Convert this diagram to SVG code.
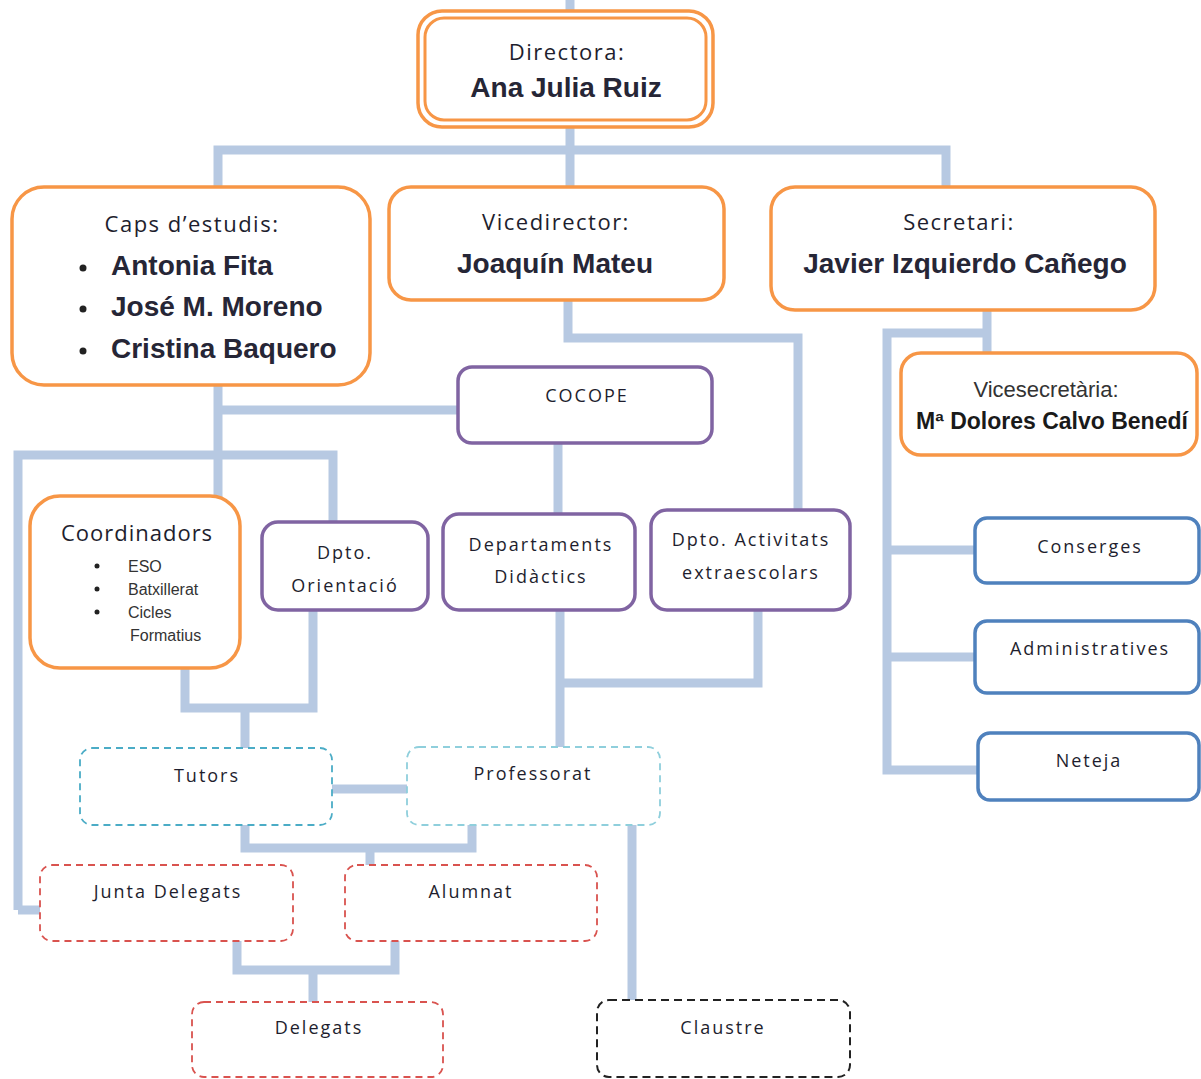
<svg xmlns="http://www.w3.org/2000/svg" width="1201" height="1079" viewBox="0 0 1201 1079">
<style>
.c{fill:none;stroke:#b7c9e2;stroke-width:9;stroke-linejoin:miter;stroke-linecap:butt}
.or{fill:#fff;stroke:#f79646;stroke-width:3.5}
.pu{fill:#fff;stroke:#8064a2;stroke-width:3.5}
.bl{fill:#fff;stroke:#4f81bd;stroke-width:3.5}
.cy{fill:#fff;stroke:#4bacc6;stroke-width:1.8;stroke-dasharray:7 5}
.rd{fill:#fff;stroke:#d9534f;stroke-width:1.8;stroke-dasharray:7 5}
.bk{fill:#fff;stroke:#222;stroke-width:2;stroke-dasharray:8 5}
text{fill:#1e1e2e;text-anchor:middle}
.t{font-family:"Open Sans","DejaVu Sans",sans-serif;font-size:18px;letter-spacing:2px}
.h{font-family:"Open Sans","DejaVu Sans",sans-serif;font-size:22px;letter-spacing:1.5px}
.b{font-family:"Liberation Sans",Arial,sans-serif;font-size:28px;font-weight:bold;fill:#262636}
.s{font-family:"Liberation Sans",Arial,sans-serif;font-size:16px;text-anchor:start;letter-spacing:0px;fill:#333}
</style>
<rect width="1201" height="1079" fill="#fff"/>
<g id="connectors">
<path class="c" d="M570 0V12"/>
<path class="c" d="M570 127V187M218 187V150H946V187"/>
<path class="c" d="M218 385V497M218 410H458"/>
<path class="c" d="M18 910V455H333V522M18 910H40"/>
<path class="c" d="M568 300V338H798V510"/>
<path class="c" d="M558 443V514"/>
<path class="c" d="M987 310V353M987 333H887V770H978M887 550H975M887 657H975"/>
<path class="c" d="M185 668V708H313V610M245 708V748"/>
<path class="c" d="M560 610V747M560 683H758V610"/>
<path class="c" d="M332 789H407"/>
<path class="c" d="M245 825V848H472V825M370 848V866"/>
<path class="c" d="M632 825V1000"/>
<path class="c" d="M237 941V970H395V941M313 970V1002"/>
</g>
<g id="directora">
<rect class="or" x="418" y="11" width="295" height="116" rx="24"/>
<rect x="425" y="18" width="281" height="102" rx="19" fill="#fff" stroke="#f79646" stroke-width="3"/>
<text class="h" x="567" y="60">Directora:</text>
<text class="b" x="566" y="97">Ana Julia Ruiz</text>
</g>
<g id="caps">
<rect class="or" x="12" y="187" width="358" height="198" rx="32"/>
<text class="h" x="192" y="232">Caps d’estudis:</text>
<circle cx="83" cy="268" r="3.5" fill="#222"/>
<circle cx="83" cy="309" r="3.5" fill="#222"/>
<circle cx="83" cy="351" r="3.5" fill="#222"/>
<text class="b" x="111" y="275" style="text-anchor:start">Antonia Fita</text>
<text class="b" x="111" y="316" style="text-anchor:start">José M. Moreno</text>
<text class="b" x="111" y="358" style="text-anchor:start">Cristina Baquero</text>
</g>
<g id="vicedirector">
<rect class="or" x="389" y="187" width="335" height="113" rx="22"/>
<text class="h" x="556" y="230">Vicedirector:</text>
<text class="b" x="555" y="273">Joaquín Mateu</text>
</g>
<g id="secretari">
<rect class="or" x="771" y="187" width="384" height="123" rx="24"/>
<text class="h" x="959" y="230">Secretari:</text>
<text class="b" x="965" y="273">Javier Izquierdo Cañego</text>
</g>
<g id="vicesecretaria">
<rect class="or" x="901" y="353" width="296" height="102" rx="20"/>
<text x="1046" y="397" style="font-family:'Liberation Sans',Arial,sans-serif;font-size:22px;fill:#333">Vicesecretària:</text>
<text x="1052" y="429" style="font-family:'Liberation Sans',Arial,sans-serif;font-size:23px;font-weight:bold;fill:#1a1a1a">Mª Dolores Calvo Benedí</text>
</g>
<g id="cocope">
<rect class="pu" x="458" y="367" width="254" height="76" rx="14"/>
<text class="t" x="587" y="402">COCOPE</text>
</g>
<g id="coordinadors">
<rect class="or" x="30" y="496" width="210" height="172" rx="30"/>
<text class="h" x="137" y="541" style="font-size:22px;letter-spacing:1px">Coordinadors</text>
<circle cx="97" cy="566" r="2.5" fill="#222"/>
<circle cx="97" cy="589" r="2.5" fill="#222"/>
<circle cx="97" cy="612" r="2.5" fill="#222"/>
<text class="s" x="128" y="572">ESO</text>
<text class="s" x="128" y="595">Batxillerat</text>
<text class="s" x="128" y="618">Cicles</text>
<text class="s" x="130" y="641">Formatius</text>
</g>
<g id="orientacio">
<rect class="pu" x="262" y="522" width="166" height="88" rx="16"/>
<text class="t" x="345" y="559">Dpto.</text>
<text class="t" x="345" y="592">Orientació</text>
</g>
<g id="didactics">
<rect class="pu" x="443" y="514" width="192" height="96" rx="16"/>
<text class="t" x="541" y="551">Departaments</text>
<text class="t" x="541" y="583">Didàctics</text>
</g>
<g id="activitats">
<rect class="pu" x="651" y="510" width="199" height="100" rx="16"/>
<text class="t" x="751" y="546">Dpto. Activitats</text>
<text class="t" x="751" y="579">extraescolars</text>
</g>
<g id="conserges">
<rect class="bl" x="975" y="518" width="224" height="65" rx="12"/>
<text class="t" x="1090" y="553">Conserges</text>
</g>
<g id="administratives">
<rect class="bl" x="975" y="621" width="224" height="72" rx="12"/>
<text class="t" x="1090" y="655">Administratives</text>
</g>
<g id="neteja">
<rect class="bl" x="978" y="733" width="221" height="67" rx="12"/>
<text class="t" x="1089" y="767">Neteja</text>
</g>
<g id="tutors">
<rect class="cy" x="80" y="748" width="252" height="77" rx="12"/>
<text class="t" x="207" y="782">Tutors</text>
</g>
<g id="professorat">
<rect class="cy" x="407" y="747" width="253" height="78" rx="12" style="stroke:#8fcfdc"/>
<text class="t" x="533" y="780">Professorat</text>
</g>
<g id="junta">
<rect class="rd" x="40" y="865" width="253" height="76" rx="12"/>
<text class="t" x="168" y="898">Junta Delegats</text>
</g>
<g id="alumnat">
<rect class="rd" x="345" y="865" width="252" height="76" rx="12"/>
<text class="t" x="471" y="898">Alumnat</text>
</g>
<g id="delegats">
<rect class="rd" x="192" y="1002" width="251" height="75" rx="12"/>
<text class="t" x="319" y="1034">Delegats</text>
</g>
<g id="claustre">
<rect class="bk" x="597" y="1000" width="253" height="77" rx="12"/>
<text class="t" x="723" y="1034">Claustre</text>
</g>
</svg>
